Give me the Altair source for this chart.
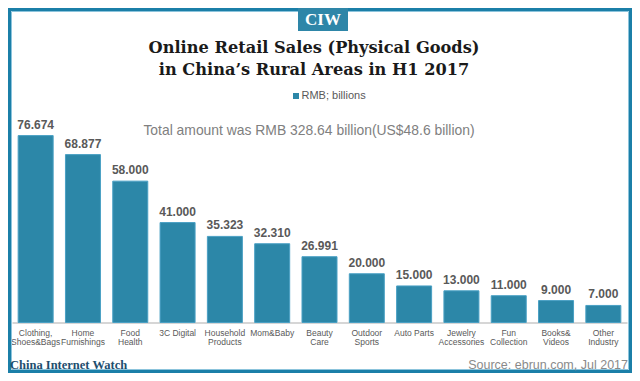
import altair as alt
import pandas as pd

categories = ["Clothing,\nShoes&Bags", "Home\nFurnishings", "Food\nHealth", "3C Digital",
              "Household\nProducts", "Mom&Baby", "Beauty\nCare", "Outdoor\nSports",
              "Auto Parts", "Jewelry\nAccessories", "Fun\nCollection", "Books&\nVideos",
              "Other\nIndustry"]
values = [76.674, 68.877, 58.000, 41.000, 35.323, 32.310, 26.991, 20.000,
          15.000, 13.000, 11.000, 9.000, 7.000]

title_lines = ["Online Retail Sales (Physical Goods)", "in China\u2019s Rural Areas in H1 2017"]
legend_label = "RMB; billions"
note = "Total amount was RMB 328.64 billion(US$48.6 billion)"
brand = "CIW"
footer_left = "China Internet Watch"
footer_right = "Source: ebrun.com, Jul 2017"

df = pd.DataFrame({"cat": categories, "value": values})

W, H = 615, 195
BAR = "#2c87a8"
TEAL = "#1b7fa8"

xenc = alt.X("cat:N", sort=None,
             scale=alt.Scale(paddingInner=0.26, paddingOuter=0.13),
             axis=alt.Axis(labels=False, ticks=False, title=None, domainColor="#c8c8c8",
                           domainWidth=1.5, grid=False))
yenc = alt.Y("value:Q", scale=alt.Scale(domain=[0, 80]), axis=None)

bars = alt.Chart(df).mark_bar(color=BAR, stroke="#4aa0c4", strokeWidth=1).encode(x=xenc, y=yenc)

vals = alt.Chart(df).mark_text(baseline="bottom", dy=-4, fontSize=12, fontWeight="bold",
                               font="Liberation Sans", color="#595959").encode(
    x=alt.X("cat:N", sort=None), y=alt.Y("value:Q"), text=alt.Text("value:Q", format=".3f"))

xlabels = alt.Chart(df).mark_text(baseline="top", lineBreak="\n", fontSize=8.5, lineHeight=9.5,
                                  font="Liberation Sans", color="#595959").encode(
    x=alt.X("cat:N", sort=None), y=alt.value(201), text="cat:N")

def single(text, x, y, **kw):
    return alt.Chart(pd.DataFrame({"t": [text]})).mark_text(**kw).encode(
        x=alt.value(x), y=alt.value(y), text="t:N")

frame = alt.Chart(pd.DataFrame({"a": [0]})).mark_rect(
    fill="transparent", stroke=TEAL, strokeWidth=3).encode(
    x=alt.value(-2.5), x2=alt.value(618.5), y=alt.value(-118), y2=alt.value(244))
frame_inner = alt.Chart(pd.DataFrame({"a": [0]})).mark_rect(
    fill="transparent", stroke="#8cc4dc", strokeWidth=1).encode(
    x=alt.value(-0.5), x2=alt.value(616.5), y=alt.value(-116), y2=alt.value(242))

logo_box = alt.Chart(pd.DataFrame({"a": [0]})).mark_rect(color="#2e86a8").encode(
    x=alt.value(286), x2=alt.value(336), y=alt.value(-119.5), y2=alt.value(-96.5))
logo = single(brand, 311, -108, font="Liberation Serif", fontWeight="bold", fontSize=17,
              color="white", align="center", baseline="middle")

t1 = single(title_lines[0], 302, -80, font="DejaVu Serif", fontWeight="bold", fontSize=16.2,
            color="#1a1a1a", align="center", baseline="middle")
t2 = single(title_lines[1], 302, -58, font="DejaVu Serif", fontWeight="bold", fontSize=16.2,
            color="#1a1a1a", align="center", baseline="middle")

leg_sq = alt.Chart(pd.DataFrame({"a": [0]})).mark_square(color=BAR, size=36, opacity=1).encode(
    x=alt.value(284), y=alt.value(-31.5))
leg_tx = single(legend_label, 289.5, -31.5, font="Liberation Sans", fontSize=11,
                color="#595959", align="left", baseline="middle")

total = single(note, 297, 3.5, font="Liberation Sans", fontSize=13.9, color="#808080",
               align="center", baseline="middle")

fl = single(footer_left, -2, 237, font="Liberation Serif", fontWeight="bold", fontSize=12.5,
            color="#1d4e6e", align="left", baseline="middle")
fr = single(footer_right, 616, 237, font="Liberation Sans", fontSize=12.5, color="#8a8a8a",
            align="right", baseline="middle")

chart = alt.layer(bars, vals, xlabels, frame, frame_inner, logo_box, logo, t1, t2,
                  leg_sq, leg_tx, total, fl, fr).properties(
    width=W, height=H,
    autosize=alt.AutoSizeParams(type="none"),
    padding={"left": 4, "top": 119.5, "right": 5, "bottom": 50.5},
    background="white",
).configure_view(stroke=None)

chart.save("out.html", embed_options={"renderer": "svg", "actions": False})
